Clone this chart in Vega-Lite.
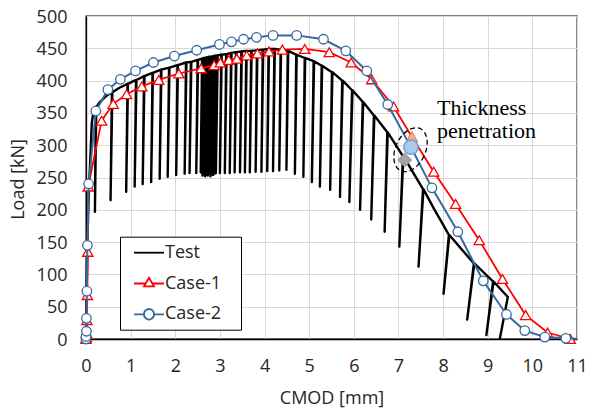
{
  "$schema": "https://vega.github.io/schema/vega-lite/v6.json",
  "width": 491,
  "height": 323,
  "autosize": {"type": "none"},
  "padding": {"left": 86, "top": 16, "right": 13, "bottom": 69},
  "background": "#ffffff",
  "config": {
    "view": {"stroke": "#000000", "strokeWidth": 1.3},
    "axis": {
      "labelFont": "Open Sans",
      "labelFontSize": 18,
      "labelColor": "#262626",
      "titleFont": "Open Sans",
      "titleFontSize": 18,
      "titleFontWeight": "normal",
      "titleColor": "#262626",
      "gridColor": "#d9d9d9",
      "gridWidth": 1,
      "domainColor": "#000000",
      "domainWidth": 1.3,
      "ticks": false,
      "tickSize": 0,
      "labelFlush": false,
      "labelOverlap": false
    }
  },
  "datasets": {
    "curves": [
      {"s": "Test", "i": 0, "x": 0, "y": 0},
      {"s": "Test", "i": 1, "x": 0.01, "y": 50},
      {"s": "Test", "i": 2, "x": 0.03, "y": 150},
      {"s": "Test", "i": 3, "x": 0.06, "y": 220},
      {"s": "Test", "i": 4, "x": 0.1, "y": 285},
      {"s": "Test", "i": 5, "x": 0.13, "y": 335},
      {"s": "Test", "i": 6, "x": 0.17, "y": 353},
      {"s": "Test", "i": 7, "x": 0.22, "y": 359},
      {"s": "Test", "i": 8, "x": 0.2, "y": 197},
      {"s": "Test", "i": 9, "x": 0.23, "y": 359},
      {"s": "Test", "i": 10, "x": 0.3, "y": 366},
      {"s": "Test", "i": 11, "x": 0.45, "y": 376},
      {"s": "Test", "i": 12, "x": 0.58, "y": 382},
      {"s": "Test", "i": 13, "x": 0.55, "y": 215},
      {"s": "Test", "i": 14, "x": 0.59, "y": 382},
      {"s": "Test", "i": 15, "x": 0.75, "y": 389},
      {"s": "Test", "i": 16, "x": 0.93, "y": 395},
      {"s": "Test", "i": 17, "x": 0.9, "y": 228},
      {"s": "Test", "i": 18, "x": 0.94, "y": 395},
      {"s": "Test", "i": 19, "x": 1.12, "y": 401},
      {"s": "Test", "i": 20, "x": 1.09, "y": 236},
      {"s": "Test", "i": 21, "x": 1.13, "y": 401},
      {"s": "Test", "i": 22, "x": 1.3, "y": 407},
      {"s": "Test", "i": 23, "x": 1.27, "y": 240},
      {"s": "Test", "i": 24, "x": 1.31, "y": 407},
      {"s": "Test", "i": 25, "x": 1.49, "y": 412},
      {"s": "Test", "i": 26, "x": 1.46, "y": 243},
      {"s": "Test", "i": 27, "x": 1.5, "y": 412},
      {"s": "Test", "i": 28, "x": 1.68, "y": 417},
      {"s": "Test", "i": 29, "x": 1.65, "y": 248},
      {"s": "Test", "i": 30, "x": 1.69, "y": 417},
      {"s": "Test", "i": 31, "x": 1.86, "y": 420},
      {"s": "Test", "i": 32, "x": 1.83, "y": 251},
      {"s": "Test", "i": 33, "x": 1.87, "y": 420},
      {"s": "Test", "i": 34, "x": 2.05, "y": 424},
      {"s": "Test", "i": 35, "x": 2.02, "y": 254},
      {"s": "Test", "i": 36, "x": 2.06, "y": 424},
      {"s": "Test", "i": 37, "x": 2.24, "y": 428},
      {"s": "Test", "i": 38, "x": 2.21, "y": 256},
      {"s": "Test", "i": 39, "x": 2.25, "y": 428},
      {"s": "Test", "i": 40, "x": 2.35, "y": 429},
      {"s": "Test", "i": 41, "x": 2.32, "y": 257},
      {"s": "Test", "i": 42, "x": 2.36, "y": 429},
      {"s": "Test", "i": 43, "x": 2.5, "y": 432},
      {"s": "Test", "i": 44, "x": 2.47, "y": 257},
      {"s": "Test", "i": 45, "x": 2.51, "y": 432},
      {"s": "Test", "i": 46, "x": 2.6, "y": 434},
      {"s": "Test", "i": 47, "x": 2.57, "y": 258},
      {"s": "Test", "i": 48, "x": 2.6, "y": 434},
      {"s": "Test", "i": 49, "x": 2.64, "y": 435},
      {"s": "Test", "i": 50, "x": 2.61, "y": 253},
      {"s": "Test", "i": 51, "x": 2.64, "y": 435},
      {"s": "Test", "i": 52, "x": 2.67, "y": 435},
      {"s": "Test", "i": 53, "x": 2.64, "y": 255},
      {"s": "Test", "i": 54, "x": 2.67, "y": 435},
      {"s": "Test", "i": 55, "x": 2.7, "y": 436},
      {"s": "Test", "i": 56, "x": 2.67, "y": 252},
      {"s": "Test", "i": 57, "x": 2.7, "y": 436},
      {"s": "Test", "i": 58, "x": 2.73, "y": 436},
      {"s": "Test", "i": 59, "x": 2.7, "y": 254},
      {"s": "Test", "i": 60, "x": 2.73, "y": 436},
      {"s": "Test", "i": 61, "x": 2.76, "y": 437},
      {"s": "Test", "i": 62, "x": 2.73, "y": 253},
      {"s": "Test", "i": 63, "x": 2.76, "y": 437},
      {"s": "Test", "i": 64, "x": 2.79, "y": 437},
      {"s": "Test", "i": 65, "x": 2.76, "y": 256},
      {"s": "Test", "i": 66, "x": 2.79, "y": 437},
      {"s": "Test", "i": 67, "x": 2.82, "y": 437},
      {"s": "Test", "i": 68, "x": 2.79, "y": 252},
      {"s": "Test", "i": 69, "x": 2.82, "y": 437},
      {"s": "Test", "i": 70, "x": 2.85, "y": 438},
      {"s": "Test", "i": 71, "x": 2.82, "y": 255},
      {"s": "Test", "i": 72, "x": 2.85, "y": 438},
      {"s": "Test", "i": 73, "x": 2.88, "y": 438},
      {"s": "Test", "i": 74, "x": 2.85, "y": 254},
      {"s": "Test", "i": 75, "x": 2.88, "y": 438},
      {"s": "Test", "i": 76, "x": 2.91, "y": 439},
      {"s": "Test", "i": 77, "x": 2.88, "y": 256},
      {"s": "Test", "i": 78, "x": 2.91, "y": 439},
      {"s": "Test", "i": 79, "x": 2.94, "y": 439},
      {"s": "Test", "i": 80, "x": 2.91, "y": 257},
      {"s": "Test", "i": 81, "x": 2.95, "y": 439},
      {"s": "Test", "i": 82, "x": 3.03, "y": 440},
      {"s": "Test", "i": 83, "x": 3.0, "y": 257},
      {"s": "Test", "i": 84, "x": 3.04, "y": 440},
      {"s": "Test", "i": 85, "x": 3.14, "y": 441},
      {"s": "Test", "i": 86, "x": 3.11, "y": 257},
      {"s": "Test", "i": 87, "x": 3.15, "y": 441},
      {"s": "Test", "i": 88, "x": 3.25, "y": 443},
      {"s": "Test", "i": 89, "x": 3.22, "y": 257},
      {"s": "Test", "i": 90, "x": 3.26, "y": 443},
      {"s": "Test", "i": 91, "x": 3.36, "y": 444},
      {"s": "Test", "i": 92, "x": 3.33, "y": 258},
      {"s": "Test", "i": 93, "x": 3.37, "y": 444},
      {"s": "Test", "i": 94, "x": 3.48, "y": 445},
      {"s": "Test", "i": 95, "x": 3.45, "y": 258},
      {"s": "Test", "i": 96, "x": 3.49, "y": 445},
      {"s": "Test", "i": 97, "x": 3.59, "y": 446},
      {"s": "Test", "i": 98, "x": 3.56, "y": 258},
      {"s": "Test", "i": 99, "x": 3.6, "y": 446},
      {"s": "Test", "i": 100, "x": 3.7, "y": 446},
      {"s": "Test", "i": 101, "x": 3.67, "y": 258},
      {"s": "Test", "i": 102, "x": 3.71, "y": 446},
      {"s": "Test", "i": 103, "x": 3.83, "y": 447},
      {"s": "Test", "i": 104, "x": 3.8, "y": 259},
      {"s": "Test", "i": 105, "x": 3.84, "y": 447},
      {"s": "Test", "i": 106, "x": 3.96, "y": 448},
      {"s": "Test", "i": 107, "x": 3.93, "y": 259},
      {"s": "Test", "i": 108, "x": 3.97, "y": 448},
      {"s": "Test", "i": 109, "x": 4.09, "y": 449},
      {"s": "Test", "i": 110, "x": 4.06, "y": 260},
      {"s": "Test", "i": 111, "x": 4.1, "y": 449},
      {"s": "Test", "i": 112, "x": 4.22, "y": 449},
      {"s": "Test", "i": 113, "x": 4.19, "y": 260},
      {"s": "Test", "i": 114, "x": 4.23, "y": 449},
      {"s": "Test", "i": 115, "x": 4.36, "y": 448},
      {"s": "Test", "i": 116, "x": 4.33, "y": 261},
      {"s": "Test", "i": 117, "x": 4.37, "y": 448},
      {"s": "Test", "i": 118, "x": 4.52, "y": 446},
      {"s": "Test", "i": 119, "x": 4.49, "y": 262},
      {"s": "Test", "i": 120, "x": 4.53, "y": 446},
      {"s": "Test", "i": 121, "x": 4.71, "y": 440},
      {"s": "Test", "i": 122, "x": 4.68, "y": 256},
      {"s": "Test", "i": 123, "x": 4.72, "y": 440},
      {"s": "Test", "i": 124, "x": 4.9, "y": 435},
      {"s": "Test", "i": 125, "x": 4.87, "y": 251},
      {"s": "Test", "i": 126, "x": 4.91, "y": 435},
      {"s": "Test", "i": 127, "x": 5.1, "y": 430},
      {"s": "Test", "i": 128, "x": 5.06, "y": 243},
      {"s": "Test", "i": 129, "x": 5.11, "y": 430},
      {"s": "Test", "i": 130, "x": 5.28, "y": 423},
      {"s": "Test", "i": 131, "x": 5.24, "y": 236},
      {"s": "Test", "i": 132, "x": 5.29, "y": 423},
      {"s": "Test", "i": 133, "x": 5.51, "y": 413},
      {"s": "Test", "i": 134, "x": 5.47, "y": 231},
      {"s": "Test", "i": 135, "x": 5.52, "y": 413},
      {"s": "Test", "i": 136, "x": 5.74, "y": 400},
      {"s": "Test", "i": 137, "x": 5.69, "y": 220},
      {"s": "Test", "i": 138, "x": 5.75, "y": 400},
      {"s": "Test", "i": 139, "x": 5.96, "y": 385},
      {"s": "Test", "i": 140, "x": 5.9, "y": 212},
      {"s": "Test", "i": 141, "x": 5.97, "y": 385},
      {"s": "Test", "i": 142, "x": 6.2, "y": 367},
      {"s": "Test", "i": 143, "x": 6.14, "y": 200},
      {"s": "Test", "i": 144, "x": 6.21, "y": 367},
      {"s": "Test", "i": 145, "x": 6.45, "y": 346},
      {"s": "Test", "i": 146, "x": 6.39, "y": 185},
      {"s": "Test", "i": 147, "x": 6.46, "y": 346},
      {"s": "Test", "i": 148, "x": 6.75, "y": 320},
      {"s": "Test", "i": 149, "x": 6.69, "y": 166},
      {"s": "Test", "i": 150, "x": 6.76, "y": 320},
      {"s": "Test", "i": 151, "x": 7.1, "y": 283},
      {"s": "Test", "i": 152, "x": 7.02, "y": 143},
      {"s": "Test", "i": 153, "x": 7.11, "y": 283},
      {"s": "Test", "i": 154, "x": 7.55, "y": 232},
      {"s": "Test", "i": 155, "x": 7.45, "y": 112},
      {"s": "Test", "i": 156, "x": 7.56, "y": 232},
      {"s": "Test", "i": 157, "x": 7.8, "y": 201},
      {"s": "Test", "i": 158, "x": 8.0, "y": 177},
      {"s": "Test", "i": 159, "x": 8.13, "y": 161},
      {"s": "Test", "i": 160, "x": 8.01, "y": 70},
      {"s": "Test", "i": 161, "x": 8.14, "y": 161},
      {"s": "Test", "i": 162, "x": 8.4, "y": 140},
      {"s": "Test", "i": 163, "x": 8.69, "y": 117},
      {"s": "Test", "i": 164, "x": 8.54, "y": 30},
      {"s": "Test", "i": 165, "x": 8.7, "y": 117},
      {"s": "Test", "i": 166, "x": 9.12, "y": 89},
      {"s": "Test", "i": 167, "x": 8.97, "y": 6},
      {"s": "Test", "i": 168, "x": 9.13, "y": 89},
      {"s": "Test", "i": 169, "x": 9.45, "y": 65},
      {"s": "Test", "i": 170, "x": 9.27, "y": 0},

      {"s": "Case-1", "i": 0, "x": 0, "y": 0},
      {"s": "Case-1", "i": 1, "x": 0.01, "y": 3},
      {"s": "Case-1", "i": 2, "x": 0.01, "y": 10},
      {"s": "Case-1", "i": 3, "x": 0.02, "y": 29},
      {"s": "Case-1", "i": 4, "x": 0.03, "y": 68},
      {"s": "Case-1", "i": 5, "x": 0.04, "y": 135},
      {"s": "Case-1", "i": 6, "x": 0.05, "y": 236},
      {"s": "Case-1", "i": 7, "x": 0.35, "y": 338},
      {"s": "Case-1", "i": 8, "x": 0.61, "y": 364},
      {"s": "Case-1", "i": 9, "x": 0.91, "y": 379},
      {"s": "Case-1", "i": 10, "x": 1.25, "y": 391},
      {"s": "Case-1", "i": 11, "x": 1.63, "y": 401},
      {"s": "Case-1", "i": 12, "x": 2.08, "y": 411},
      {"s": "Case-1", "i": 13, "x": 2.58, "y": 419},
      {"s": "Case-1", "i": 14, "x": 2.87, "y": 424},
      {"s": "Case-1", "i": 15, "x": 3.01, "y": 428},
      {"s": "Case-1", "i": 16, "x": 3.2, "y": 432},
      {"s": "Case-1", "i": 17, "x": 3.38, "y": 434},
      {"s": "Case-1", "i": 18, "x": 3.6, "y": 439},
      {"s": "Case-1", "i": 19, "x": 3.84, "y": 442},
      {"s": "Case-1", "i": 20, "x": 4.1, "y": 445},
      {"s": "Case-1", "i": 21, "x": 4.4, "y": 448},
      {"s": "Case-1", "i": 22, "x": 4.9, "y": 449},
      {"s": "Case-1", "i": 23, "x": 5.45, "y": 444},
      {"s": "Case-1", "i": 24, "x": 5.94, "y": 428},
      {"s": "Case-1", "i": 25, "x": 6.4, "y": 402},
      {"s": "Case-1", "i": 26, "x": 6.89, "y": 360},
      {"s": "Case-1", "i": 27, "x": 7.3, "y": 313},
      {"s": "Case-1", "i": 28, "x": 7.79, "y": 259},
      {"s": "Case-1", "i": 29, "x": 8.28, "y": 209},
      {"s": "Case-1", "i": 30, "x": 8.81, "y": 153},
      {"s": "Case-1", "i": 31, "x": 9.33, "y": 93},
      {"s": "Case-1", "i": 32, "x": 9.85, "y": 37},
      {"s": "Case-1", "i": 33, "x": 10.34, "y": 10},
      {"s": "Case-1", "i": 34, "x": 10.85, "y": 0},

      {"s": "Case-2", "i": 0, "x": 0, "y": 0},
      {"s": "Case-2", "i": 1, "x": 0, "y": 4},
      {"s": "Case-2", "i": 2, "x": 0.01, "y": 12},
      {"s": "Case-2", "i": 3, "x": 0.01, "y": 32},
      {"s": "Case-2", "i": 4, "x": 0.02, "y": 74},
      {"s": "Case-2", "i": 5, "x": 0.03, "y": 145},
      {"s": "Case-2", "i": 6, "x": 0.06, "y": 240},
      {"s": "Case-2", "i": 7, "x": 0.22, "y": 353},
      {"s": "Case-2", "i": 8, "x": 0.49, "y": 386},
      {"s": "Case-2", "i": 9, "x": 0.77, "y": 402},
      {"s": "Case-2", "i": 10, "x": 1.11, "y": 415},
      {"s": "Case-2", "i": 11, "x": 1.51, "y": 428},
      {"s": "Case-2", "i": 12, "x": 1.98, "y": 438},
      {"s": "Case-2", "i": 13, "x": 2.48, "y": 447},
      {"s": "Case-2", "i": 14, "x": 2.99, "y": 456},
      {"s": "Case-2", "i": 15, "x": 3.26, "y": 460},
      {"s": "Case-2", "i": 16, "x": 3.53, "y": 464},
      {"s": "Case-2", "i": 17, "x": 3.82, "y": 467},
      {"s": "Case-2", "i": 18, "x": 4.19, "y": 470},
      {"s": "Case-2", "i": 19, "x": 4.72, "y": 470},
      {"s": "Case-2", "i": 20, "x": 5.32, "y": 464},
      {"s": "Case-2", "i": 21, "x": 5.82, "y": 446},
      {"s": "Case-2", "i": 22, "x": 6.29, "y": 415},
      {"s": "Case-2", "i": 23, "x": 6.76, "y": 363},
      {"s": "Case-2", "i": 24, "x": 7.28, "y": 297},
      {"s": "Case-2", "i": 25, "x": 7.75, "y": 234},
      {"s": "Case-2", "i": 26, "x": 8.33, "y": 166},
      {"s": "Case-2", "i": 27, "x": 8.9, "y": 90},
      {"s": "Case-2", "i": 28, "x": 9.42, "y": 38},
      {"s": "Case-2", "i": 29, "x": 9.83, "y": 13},
      {"s": "Case-2", "i": 30, "x": 10.28, "y": 3},
      {"s": "Case-2", "i": 31, "x": 10.75, "y": 1},
      {"s": "Case-2", "i": 32, "x": 11, "y": 0.5}
    ],
    "penetration": [
      {"s": "Test", "x": 7.14, "y": 277},
      {"s": "Case-1", "x": 7.3, "y": 313},
      {"s": "Case-2", "x": 7.28, "y": 297}
    ],
    "ring": [
      {"x": 7.27, "y": 293}
    ],
    "note": [
      {"x": 7.865, "y": 346.7, "t": "Thickness"},
      {"x": 7.865, "y": 311, "t": "penetration"}
    ]
  },
  "encoding": {
    "x": {
      "field": "x",
      "type": "quantitative",
      "scale": {"domain": [0, 11], "nice": false, "zero": false},
      "axis": {
        "title": "CMOD [mm]",
        "tickCount": 11,
        "labelPadding": 18,
        "titleY": 64,
        "titleBaseline": "alphabetic"
      }
    },
    "y": {
      "field": "y",
      "type": "quantitative",
      "scale": {"domain": [0, 500], "nice": false},
      "axis": {
        "title": "Load [kN]",
        "tickCount": 10,
        "labelPadding": 19,
        "labelOffset": 1,
        "titleX": -62.5,
        "titleY": 163,
        "titleBaseline": "alphabetic"
      }
    }
  },
  "layer": [
    {
      "data": {"name": "curves"},
      "transform": [{"filter": "datum.s === 'Test'"}],
      "mark": {"type": "line", "strokeWidth": 2.4, "strokeJoin": "round"},
      "encoding": {
        "order": {"field": "i", "type": "quantitative"},
        "color": {
          "field": "s",
          "type": "nominal",
          "scale": {"domain": ["Test", "Case-1", "Case-2"], "range": ["#000000", "#ff0000", "#35699f"]},
          "legend": {
            "title": null,
            "orient": "none",
            "legendX": 34,
            "legendY": 220.7,
            "padding": 6,
            "rowPadding": 11.8,
            "strokeColor": "#000000",
            "fillColor": "#ffffff",
            "symbolSize": 324,
            "symbolStrokeWidth": 1.8,
            "labelFont": "Open Sans",
            "labelFontSize": 18,
            "labelColor": "#262626",
            "labelOffset": 19,
            "labelBaseline": "middle",
            "labelExpr": "datum.label + '\u2800'",
            "encode": {
              "symbols": {
                "update": {
                  "shape": {"signal": "datum.value === 'Test' ? 'M-0.22,0H3.11' : datum.value === 'Case-1' ? 'M-0.22,0H1.07M1.81,0H3.11M1.444,-0.64L2.0,0.32L0.889,0.32Z' : 'M-0.22,0H0.889M2.0,0H3.11M2.0,0A0.556,0.556 0 1,1 0.889,0A0.556,0.556 0 1,1 2.0,0Z'"},
                  "stroke": {"signal": "datum.value === 'Test' ? '#000000' : datum.value === 'Case-1' ? '#ff0000' : '#35699f'"},
                  "fill": {"value": "#ffffff"},
                  "strokeWidth": {"value": 1.8},
                  "opacity": {"value": 1}
                }
              }
            }
          }
        }
      }
    },
    {
      "data": {"name": "curves"},
      "transform": [{"filter": "datum.s === 'Case-1'"}],
      "mark": {"type": "line", "strokeWidth": 1.8},
      "encoding": {
        "order": {"field": "i", "type": "quantitative"},
        "color": {"field": "s", "type": "nominal"}
      }
    },
    {
      "data": {"name": "curves"},
      "transform": [{"filter": "datum.s === 'Case-1'"}],
      "mark": {"type": "point", "shape": "triangle-up", "filled": true, "fill": "#ffffff", "stroke": "#ff0000", "strokeWidth": 1.3, "size": 105, "opacity": 1}
    },
    {
      "data": {"name": "curves"},
      "transform": [{"filter": "datum.s === 'Case-2'"}],
      "mark": {"type": "line", "strokeWidth": 2},
      "encoding": {
        "order": {"field": "i", "type": "quantitative"},
        "color": {"field": "s", "type": "nominal"}
      }
    },
    {
      "data": {"name": "curves"},
      "transform": [{"filter": "datum.s === 'Case-2' && datum.x < 11"}],
      "mark": {"type": "point", "shape": "circle", "filled": true, "fill": "#ffffff", "stroke": "#35699f", "strokeWidth": 1.3, "size": 90, "opacity": 1}
    },
    {
      "data": {"name": "penetration"},
      "transform": [{"filter": "datum.s === 'Case-1'"}],
      "mark": {"type": "point", "shape": "triangle-up", "filled": true, "fill": "#f4b183", "stroke": "#f08c5a", "strokeWidth": 1, "size": 120, "opacity": 1}
    },
    {
      "data": {"name": "penetration"},
      "transform": [{"filter": "datum.s === 'Case-2'"}],
      "mark": {"type": "point", "shape": "circle", "filled": true, "fill": "#a9cbe9", "stroke": "#6a9fd2", "strokeWidth": 1.5, "size": 205, "opacity": 1}
    },
    {
      "data": {"name": "penetration"},
      "transform": [{"filter": "datum.s === 'Test'"}],
      "mark": {"type": "point", "shape": "diamond", "filled": true, "fill": "#a5a5a5", "stroke": "#8c8c8c", "strokeWidth": 1, "size": 190, "opacity": 1}
    },
    {
      "data": {"name": "ring"},
      "mark": {
        "type": "point",
        "shape": "M0.642,0C0.642,0.552 0.355,1 0,1C-0.355,1 -0.642,0.552 -0.642,0C-0.642,-0.552 -0.355,-1 0,-1C0.355,-1 0.642,-0.552 0.642,0Z",
        "filled": false,
        "stroke": "#000000",
        "strokeWidth": 1.3,
        "strokeDash": [5, 3],
        "size": 2153,
        "angle": 25,
        "opacity": 1
      }
    },
    {
      "data": {"name": "note"},
      "mark": {"type": "text", "align": "left", "baseline": "alphabetic", "font": "Liberation Serif", "fontSize": 22, "color": "#000000"},
      "encoding": {"text": {"field": "t"}}
    }
  ]
}
